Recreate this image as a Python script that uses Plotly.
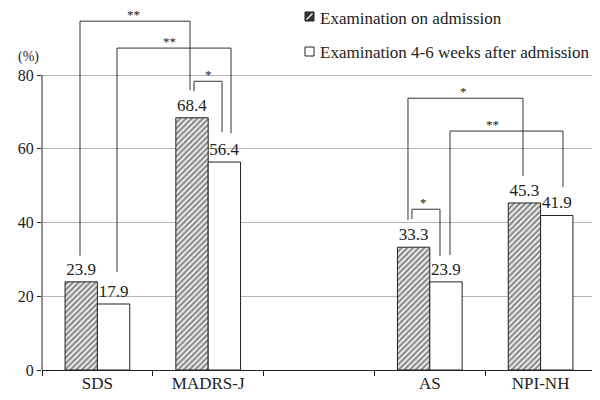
import plotly.graph_objects as go

# ---------------- data ----------------
categories = ["SDS", "MADRS-J", " ", "AS", "NPI-NH"]
admission = [23.9, 68.4, None, 33.3, 45.3]
followup = [17.9, 56.4, None, 23.9, 41.9]
series_names = ["Examination on admission", "Examination 4-6 weeks after admission"]
y_ticks = [0, 20, 40, 60, 80]

# significance brackets: x_left, x_right (category units), y_top, y_left_end, y_right_end, label, label position (fraction)
brackets = [
    (-0.157, 0.836, 94.6, 31.0, 75.9, "**", 0.49),
    (0.177, 1.206, 87.3, 26.6, 64.2, "**", 0.46),
    (0.872, 1.125, 78.3, 75.6, 64.5, "*", 0.50),
    (2.803, 3.841, 73.7, 40.7, 52.6, "*", 0.48),
    (3.182, 4.202, 64.8, 31.2, 49.6, "**", 0.38),
    (2.839, 3.092, 43.6, 40.9, 30.9, "*", 0.40),
]

FONT = "Liberation Serif"
TXT = "#222222"
OFF = 8                      # page body margin
W, H = 600 - OFF, 400 - OFF  # figure size
ML, MR, MT, MB = 34, 4, 0, 30
PW, PH = W - ML - MR, H - MT - MB
Y_MAX = PH / 3.6875


def px_x(px):  # page px -> paper x
    return (px - OFF - ML) / PW


def px_y(py):  # page px -> paper y
    return (H - MB - (py - OFF)) / PH


fig = go.Figure()
fig.add_trace(go.Bar(
    x=categories, y=admission, name=series_names[0],
    marker=dict(color="white", line=dict(color="#222222", width=1),
                pattern=dict(shape="/", fgcolor="#1a1a1a", bgcolor="white", size=4, solidity=0.62)),
    text=[None if v is None else f"{v:.1f}" for v in admission],
    textposition="outside", constraintext="none", cliponaxis=False,
    textfont=dict(family=FONT, size=17, color=TXT),
))
fig.add_trace(go.Bar(
    x=categories, y=followup, name=series_names[1],
    marker=dict(color="white", line=dict(color="#222222", width=1)),
    text=[None if v is None else f"{v:.1f}" for v in followup],
    textposition="outside", constraintext="none", cliponaxis=False,
    textfont=dict(family=FONT, size=17, color=TXT),
))

shapes = []
annotations = []
for xl, xr, yt, yl, yr, lab, fr in brackets:
    shapes.append(dict(type="path", xref="x", yref="y",
                       path=f"M {xl},{yl} L {xl},{yt} L {xr},{yt} L {xr},{yr}",
                       line=dict(color="#333333", width=1)))
    annotations.append(dict(x=xl + (xr - xl) * fr, y=yt, xref="x", yref="y",
                            text=lab, showarrow=False, yanchor="bottom", yshift=-3,
                            font=dict(family=FONT, size=13, color=TXT)))

# y axis line (0-80 only)
shapes.append(dict(type="line", xref="paper", yref="y", x0=0, x1=0, y0=0, y1=80,
                   line=dict(color="#222222", width=1)))

# manual legend
shapes.append(dict(type="rect", xref="paper", yref="paper",
                   x0=px_x(305), x1=px_x(314), y0=px_y(21), y1=px_y(12),
                   fillcolor="#333333", line=dict(color="#222222", width=1)))
shapes.append(dict(type="line", xref="paper", yref="paper",
                   x0=px_x(306.5), x1=px_x(312.5), y0=px_y(19.5), y1=px_y(13.5),
                   line=dict(color="white", width=1.3)))
shapes.append(dict(type="rect", xref="paper", yref="paper",
                   x0=px_x(305), x1=px_x(314), y0=px_y(56), y1=px_y(47),
                   fillcolor="white", line=dict(color="#222222", width=1)))
for name, py in zip(series_names, [18, 53]):
    annotations.append(dict(x=px_x(318), y=px_y(py), xref="paper", yref="paper",
                            text=name, showarrow=False, xanchor="left", yanchor="middle",
                            font=dict(family=FONT, size=17, color=TXT)))

annotations.append(dict(x=px_x(28), y=px_y(57), xref="paper", yref="paper",
                        text="(%)", showarrow=False, xanchor="center", yanchor="middle",
                        font=dict(family=FONT, size=14, color=TXT)))

fig.update_layout(
    width=W, height=H,
    margin=dict(l=ML, r=MR, t=MT, b=MB, pad=0),
    paper_bgcolor="white", plot_bgcolor="white",
    barmode="group", bargap=0.416, bargroupgap=0,
    showlegend=False,
    shapes=shapes, annotations=annotations,
    font=dict(family=FONT, color=TXT),
    xaxis=dict(type="category", categoryorder="array", categoryarray=categories,
               range=[-0.5, 4.5], showline=True, linecolor="#222222", linewidth=1,
               ticks="outside", tickson="boundaries", ticklen=5, tickcolor="#222222",
               showgrid=False, tickfont=dict(family=FONT, size=17, color=TXT),
               ticklabelstandoff=-2,
               automargin=False, fixedrange=True),
    yaxis=dict(range=[0, Y_MAX], tickvals=y_ticks, showline=False,
               ticks="outside", ticklen=4, tickcolor="#222222",
               showgrid=True, gridcolor="#b4b4b4", gridwidth=1, zeroline=False,
               tickfont=dict(family=FONT, size=16, color=TXT),
               automargin=False, fixedrange=True),
)

fig.write_html("out.html")
